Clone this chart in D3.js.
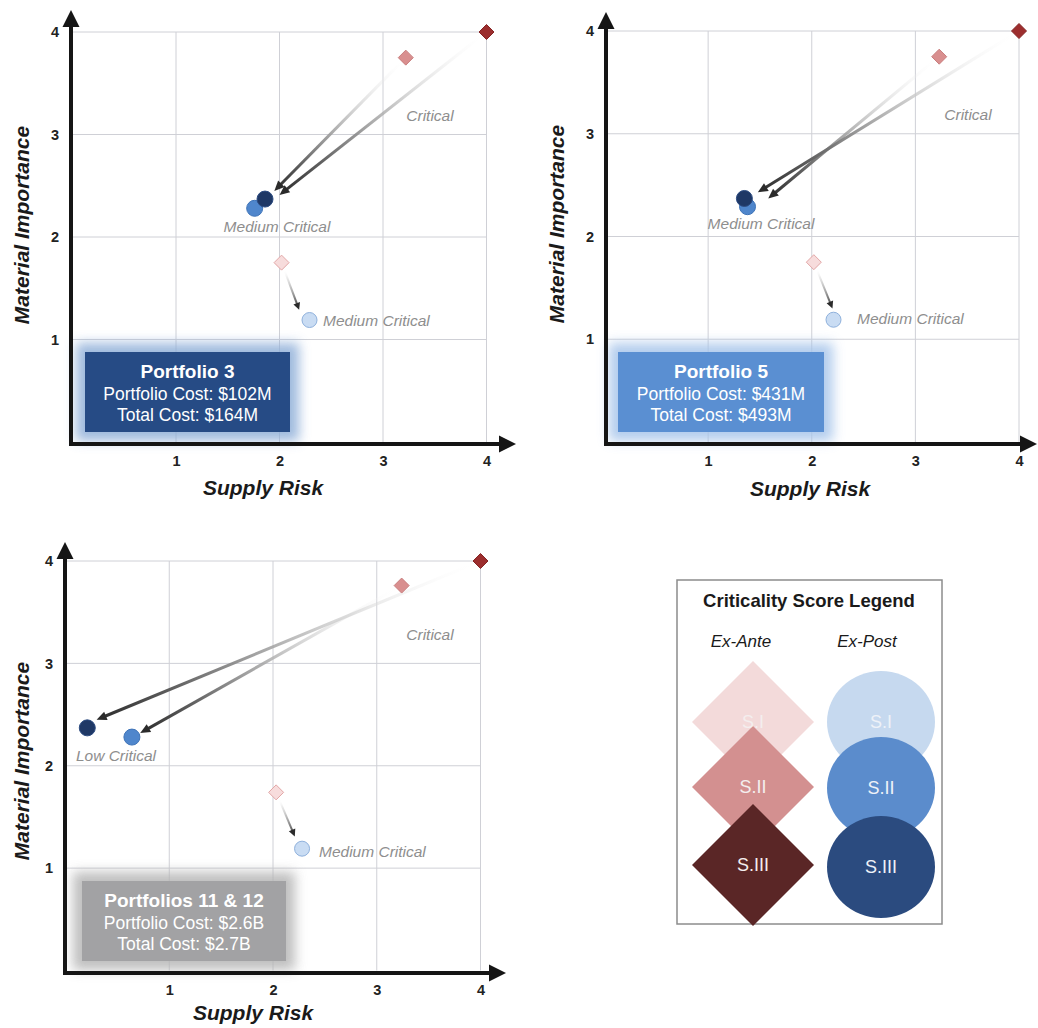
<!DOCTYPE html>
<html><head><meta charset="utf-8">
<script src="https://cdn.jsdelivr.net/npm/d3@7"></script>
<style>html,body{margin:0;padding:0;background:#fff}svg{display:block}</style>
</head><body><svg id="c" width="1038" height="1028"></svg>
<script>
// ---------- DATA ----------
const xTicks = [1, 2, 3, 4];
const yTicks = [1, 2, 3, 4];
const panelTitles = ["Portfolio 3", "Portfolio 5", "Portfolios 11 & 12"];
const portfolioCosts = ["Portfolio Cost: $102M", "Portfolio Cost: $431M", "Portfolio Cost: $2.6B"];
const totalCosts = ["Total Cost: $164M", "Total Cost: $493M", "Total Cost: $2.7B"];
const levels = ["S.I", "S.II", "S.III"];
// ex-ante (diamonds) [supply risk, material importance] per panel
const exAnteSI   = [[2.02, 1.75], [2.02, 1.75], [2.03, 1.74]];
const exAnteSII  = [[3.22, 3.75], [3.23, 3.75], [3.24, 3.76]];
const exAnteSIII = [[4.00, 4.00], [4.00, 4.00], [4.00, 4.00]];
// ex-post (circles)
const exPostSI   = [[2.29, 1.19], [2.21, 1.19], [2.28, 1.19]];
const exPostSII  = [[1.76, 2.28], [1.38, 2.29], [0.64, 2.28]];
const exPostSIII = [[1.86, 2.37], [1.35, 2.37], [0.21, 2.37]];
// arrow tips (ex-ante -> ex-post)
const arrowEndSI   = [[2.19, 1.29], [2.20, 1.30], [2.21, 1.31]];
const arrowEndSII  = [[1.95, 2.45], [1.58, 2.37], [0.72, 2.32]];
const arrowEndSIII = [[2.00, 2.41], [1.48, 2.43], [0.30, 2.45]];
const regionLabels = [
  ["Critical", "Medium Critical", "Medium Critical"],
  ["Critical", "Medium Critical", "Medium Critical"],
  ["Critical", "Low Critical", "Medium Critical"]
];
const xTitle = "Supply Risk";
const yTitle = "Material Importance";
const legendTitle = "Criticality Score Legend";
const legendColumns = ["Ex-Ante", "Ex-Post"];

// ---------- STYLE / LAYOUT ----------
const FONT = "'Liberation Sans', Arial, Helvetica, sans-serif";
const anteFill = ["#f7dcdc", "#d98f8f", "#9c2e2e"];
const anteStroke = ["#e2a6a6", "#c97e7e", "#852424"];
const postFill = ["#c9dcf3", "#4f86cc", "#1f3866"];
const postStroke = ["#8fb1dc", "#3f74b8", "#2d4c82"];
const legAnte = ["#f3dada", "#d39090", "#5a2626"];
const legPost = ["#c6d9ef", "#5b8ccc", "#2b4b7f"];

const layouts = [
  {x: [72.5, 486.5], y: [442, 32], axX: 71, axY: 444, yTip: 10, xTip: 516,
   ytl: [22, 225], xtl: [263, 495], box: [85, 352, 205, 80], boxFill: "#264b85", glow: "#8eaed8",
   lab: [[430, 121, "middle"], [277, 232, "middle"], [323, 326, "start"]]},
  {x: [604.5, 1019], y: [442, 31], axX: 606, axY: 444, yTip: 12, xTip: 1037,
   ytl: [557, 224], xtl: [810, 496], box: [618, 352, 206, 80], boxFill: "#5a8fd2", glow: "#a6c4ea",
   lab: [[968, 120, "middle"], [761, 229, "middle"], [857, 324, "start"]]},
  {x: [65.5, 480.5], y: [970.5, 561], axX: 65, axY: 973, yTip: 542, xTip: 506,
   ytl: [22, 761], xtl: [253, 1020], box: [82, 881, 204, 80], boxFill: "#a2a2a4", glow: "#b4b4b4",
   lab: [[430, 640, "middle"], [116, 761, "middle"], [319, 857, "start"]]}
];

const svg = d3.select("#c");
const defs = svg.append("defs");
const f = defs.append("filter").attr("id", "blur").attr("x", "-30%").attr("y", "-30%").attr("width", "160%").attr("height", "160%");
f.append("feGaussianBlur").attr("stdDeviation", 6);

function diamond(cx, cy, r) { return `M${cx},${cy - r}L${cx + r},${cy}L${cx},${cy + r}L${cx - r},${cy}Z`; }

let gid = 0;
function arrow(g, x0, y0, x1, y1, w, hl, hw, stops) {
  const dx = x1 - x0, dy = y1 - y0, len = Math.hypot(dx, dy), ux = dx / len, uy = dy / len;
  const bx = x1 - ux * hl, by = y1 - uy * hl;
  const id = "ag" + (gid++);
  const gr = defs.append("linearGradient").attr("id", id).attr("gradientUnits", "userSpaceOnUse")
    .attr("x1", x0).attr("y1", y0).attr("x2", x1).attr("y2", y1);
  stops.forEach(s => gr.append("stop").attr("offset", s[0]).attr("stop-color", s[1]).attr("stop-opacity", s[2]));
  g.append("line").attr("x1", x0).attr("y1", y0).attr("x2", bx + ux).attr("y2", by + uy)
    .attr("stroke", `url(#${id})`).attr("stroke-width", w);
  g.append("path").attr("d", `M${x1},${y1}L${bx - uy * hw},${by + ux * hw}L${bx + uy * hw},${by - ux * hw}Z`).attr("fill", "#2b2b2b");
}
const bigStops = [[0, "#ffffff", 0], [0.1, "#f2f2f2", 0.2], [0.4, "#c8c8c8", 0.8], [0.8, "#606060", 1], [1, "#2b2b2b", 1]];
const smallStops = [[0, "#ffffff", 0], [0.2, "#dddddd", 0.6], [1, "#2b2b2b", 1]];

layouts.forEach((L, i) => {
  const g = svg.append("g");
  const x = d3.scaleLinear().domain([0, 4]).range(L.x);
  const y = d3.scaleLinear().domain([0, 4]).range(L.y);

  // grid
  g.append("g").selectAll("line").data(xTicks).join("line")
    .attr("x1", d => x(d)).attr("x2", d => x(d)).attr("y1", y(0)).attr("y2", y(4))
    .attr("stroke", "#cfd0d6").attr("stroke-width", 1);
  g.append("g").selectAll("line").data(yTicks).join("line")
    .attr("x1", x(0)).attr("x2", x(4)).attr("y1", d => y(d)).attr("y2", d => y(d))
    .attr("stroke", "#cfd0d6").attr("stroke-width", 1);

  // info box with glow
  const [bx, by, bw, bh] = L.box;
  g.append("rect").attr("x", bx - 9).attr("y", by - 9).attr("width", bw + 18).attr("height", bh + 18)
    .attr("fill", L.glow).attr("opacity", 0.85).attr("filter", "url(#blur)");
  g.append("rect").attr("x", bx).attr("y", by).attr("width", bw).attr("height", bh).attr("fill", L.boxFill);
  const tcx = bx + bw / 2;
  g.append("text").attr("x", tcx).attr("y", by + 26).attr("text-anchor", "middle").attr("font-family", FONT)
    .attr("font-size", 19).attr("font-weight", "bold").attr("fill", "#fff").text(panelTitles[i]);
  g.append("text").attr("x", tcx).attr("y", by + 48).attr("text-anchor", "middle").attr("font-family", FONT)
    .attr("font-size", 17.5).attr("fill", "#fff").text(portfolioCosts[i]);
  g.append("text").attr("x", tcx).attr("y", by + 69).attr("text-anchor", "middle").attr("font-family", FONT)
    .attr("font-size", 17.5).attr("fill", "#fff").text(totalCosts[i]);

  // axes (thick arrows)
  g.append("line").attr("x1", L.axX).attr("x2", L.axX).attr("y1", L.axY + 2).attr("y2", L.yTip + 14)
    .attr("stroke", "#151515").attr("stroke-width", 4);
  g.append("path").attr("d", `M${L.axX},${L.yTip}L${L.axX + 8.5},${L.yTip + 17}L${L.axX - 8.5},${L.yTip + 17}Z`).attr("fill", "#151515");
  g.append("line").attr("x1", L.axX - 2).attr("x2", L.xTip - 14).attr("y1", L.axY).attr("y2", L.axY)
    .attr("stroke", "#151515").attr("stroke-width", 4);
  g.append("path").attr("d", `M${L.xTip},${L.axY}L${L.xTip - 17},${L.axY - 8.5}L${L.xTip - 17},${L.axY + 8.5}Z`).attr("fill", "#151515");

  // tick labels through d3 axes
  const ax = g.append("g").attr("transform", `translate(0,${L.axY})`)
    .call(d3.axisBottom(x).tickValues(xTicks).tickSize(0).tickPadding(12).tickFormat(d3.format("d")));
  ax.select(".domain").remove();
  const ay = g.append("g").attr("transform", `translate(${L.axX},0)`)
    .call(d3.axisLeft(y).tickValues(yTicks).tickSize(0).tickPadding(12).tickFormat(d3.format("d")));
  ay.select(".domain").remove();
  [ax, ay].forEach(a => a.selectAll("text").attr("font-family", FONT).attr("font-size", 14.5)
    .attr("font-weight", "bold").attr("fill", "#222"));

  // axis titles
  g.append("text").attr("x", L.xtl[0]).attr("y", L.xtl[1]).attr("text-anchor", "middle").attr("font-family", FONT)
    .attr("font-size", 21).attr("font-weight", "bold").attr("font-style", "italic").attr("fill", "#1a1a1a").text(xTitle);
  g.append("text").attr("transform", `translate(${L.ytl[0] + 7},${L.ytl[1]}) rotate(-90)`).attr("text-anchor", "middle")
    .attr("font-family", FONT).attr("font-size", 21).attr("font-weight", "bold").attr("font-style", "italic")
    .attr("fill", "#1a1a1a").text(yTitle);

  // region labels
  regionLabels[i].forEach((t, k) => {
    g.append("text").attr("x", L.lab[k][0]).attr("y", L.lab[k][1]).attr("text-anchor", L.lab[k][2])
      .attr("font-family", FONT).attr("font-size", 15.5).attr("font-style", "italic").attr("fill", "#8e8e8e").text(t);
  });

  // arrows
  const ante = [exAnteSI[i], exAnteSII[i], exAnteSIII[i]];
  const post = [exPostSI[i], exPostSII[i], exPostSIII[i]];
  const ends = [arrowEndSI[i], arrowEndSII[i], arrowEndSIII[i]];
  {
    const a = ante[0], e = ends[0];
    const X0 = x(a[0]), Y0 = y(a[1]), X1 = x(e[0]), Y1 = y(e[1]);
    const len = Math.hypot(X1 - X0, Y1 - Y0);
    const sx = X0 + (X1 - X0) / len * 8, sy = Y0 + (Y1 - Y0) / len * 8;
    arrow(g, sx, sy, X1, Y1, 2, 7, 3.5, smallStops);
  }
  [1, 2].forEach(k => {
    const a = ante[k], e = ends[k];
    arrow(g, x(a[0]), y(a[1]), x(e[0]), y(e[1]), 3, 10, 4.5, bigStops);
  });

  // ex-ante diamonds
  g.append("g").selectAll("path").data(ante).join("path")
    .attr("d", d => diamond(x(d[0]), y(d[1]), 7.5))
    .attr("fill", (d, k) => anteFill[k]).attr("stroke", (d, k) => anteStroke[k]).attr("stroke-width", 1);
  // ex-post circles
  g.append("g").selectAll("circle").data(post).join("circle")
    .attr("cx", d => x(d[0])).attr("cy", d => y(d[1])).attr("r", (d, k) => k === 0 ? 7.5 : 8)
    .attr("fill", (d, k) => postFill[k]).attr("stroke", (d, k) => postStroke[k]).attr("stroke-width", 1);
});

// ---------- LEGEND ----------
const lg = svg.append("g");
lg.append("rect").attr("x", 677).attr("y", 580).attr("width", 265).attr("height", 344)
  .attr("fill", "#fff").attr("stroke", "#8c8c8c").attr("stroke-width", 1.5);
lg.append("text").attr("x", 809).attr("y", 607).attr("text-anchor", "middle").attr("font-family", FONT)
  .attr("font-size", 18.5).attr("font-weight", "bold").attr("fill", "#1a1a1a").text(legendTitle);
const colX = [753, 881];
legendColumns.forEach((t, k) => lg.append("text").attr("x", k === 0 ? 741 : 867).attr("y", 647)
  .attr("text-anchor", "middle").attr("font-family", FONT).attr("font-size", 17).attr("font-style", "italic")
  .attr("fill", "#1a1a1a").text(t));
const dY = [722, 787, 865];
const cY = [722, 788, 867];
lg.append("g").selectAll("path").data(levels).join("path")
  .attr("d", (d, k) => diamond(colX[0], dY[k], 61)).attr("fill", (d, k) => legAnte[k]);
lg.append("g").selectAll("text").data(levels).join("text")
  .attr("x", colX[0]).attr("y", (d, k) => dY[k] + 6).attr("text-anchor", "middle").attr("font-family", FONT)
  .attr("font-size", 18).attr("fill", "#f4eeee").text(d => d);
lg.append("g").selectAll("ellipse").data(levels).join("ellipse")
  .attr("cx", colX[1]).attr("cy", (d, k) => cY[k]).attr("rx", 54).attr("ry", 51).attr("fill", (d, k) => legPost[k]);
lg.append("g").selectAll("text").data(levels).join("text")
  .attr("x", colX[1]).attr("y", (d, k) => cY[k] + 6).attr("text-anchor", "middle").attr("font-family", FONT)
  .attr("font-size", 18).attr("fill", "#eef2f8").text(d => d);
</script></body></html>
